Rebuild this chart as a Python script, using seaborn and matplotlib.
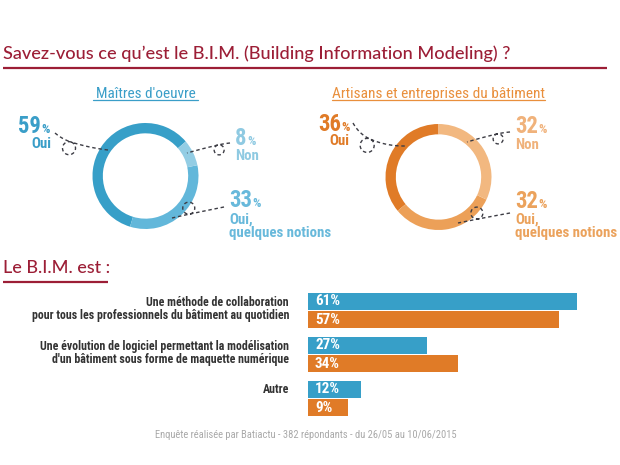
import numpy as np
import pandas as pd
import matplotlib
matplotlib.use("Agg")
import matplotlib.pyplot as plt
import seaborn as sns
from matplotlib import font_manager

# ---------------- data ----------------
title = "Savez-vous ce qu’est le B.I.M. (Building Information Modeling) ?"
section_title = "Le B.I.M. est :"
footer = "Enquête réalisée par Batiactu - 382 répondants - du 26/05 au 10/06/2015"

groups = ["Maîtres d'oeuvre", "Artisans et entreprises du bâtiment"]
answers = ["Oui", "Oui,\nquelques notions", "Non"]
moe_values = [59, 33, 8]
art_values = [36, 32, 32]

bim_categories = [
    "Une méthode de collaboration\npour tous les professionnels du bâtiment au quotidien",
    "Une évolution de logiciel permettant la modélisation\nd'un bâtiment sous forme de maquette numérique",
    "Autre",
]
bim_moe = [61, 27, 12]
bim_art = [57, 34, 9]

# ---------------- style ----------------
W, H = 620, 465
RED = "#9c1e36"
BLUE = ["#379fc8", "#62b7da", "#93cde4"]      # Oui, notions, Non
ORANGE = ["#e07b27", "#eca058", "#f2b880"]
BLUE_TXT = ["#3a9ec8", "#68b9db", "#8fcae2"]
ORANGE_TXT = ["#e07b27", "#eba25c", "#f0b27b"]
BAR_COLORS = ["#379fc8", "#e07b27"]

sns.set_theme(style="white")
names = set(font_manager.get_font_names())
NARROW = next(f for f in ["Roboto Condensed", "Archivo Narrow", "Asap Condensed",
                          "Liberation Sans Narrow", "Roboto"] if f in names or f == "Roboto")
plt.rcParams["font.family"] = [NARROW, "DejaVu Sans"]
TITLE_FONT = "Lato" if "Lato" in names else "DejaVu Sans"

fig = plt.figure(figsize=(W / 100, H / 100), dpi=100)
fig.patch.set_facecolor("white")
renderer = fig.canvas.get_renderer()

ov = fig.add_axes([0, 0, 1, 1], zorder=5)
ov.set_xlim(0, W)
ov.set_ylim(H, 0)
ov.axis("off")
ov.patch.set_visible(False)


def fit(t, width_px):
    bb = t.get_window_extent(renderer)
    t.set_fontsize(t.get_fontsize() * width_px / bb.width)
    return t.get_fontsize()


def px_extent(t):
    bb = t.get_window_extent(renderer)
    return bb.x0, bb.x1


# ---------------- titles ----------------
t = ov.text(3, 59, title, family=TITLE_FONT, color=RED, fontsize=13, va="baseline", ha="left",
            fontweight="medium")
fit(t, 507)
ov.plot([3, 607], [68, 68], color=RED, lw=1.6, solid_capstyle="butt")

t = ov.text(3, 273, section_title, family=TITLE_FONT, color=RED, fontsize=13, va="baseline", ha="left",
            fontweight="medium")
fit(t, 107)
ov.plot([3, 108], [282, 282], color=RED, lw=1.6, solid_capstyle="butt")

# ---------------- donuts ----------------
def donut(cx, cy, r, values, colors, start):
    ax = fig.add_axes([(cx - r) / W, (H - cy - r) / H, 2 * r / W, 2 * r / H])
    ax.pie(values, colors=colors, startangle=start, counterclock=True, radius=1,
           wedgeprops=dict(width=0.195, edgecolor="none", linewidth=0))
    ax.set_xlim(-1, 1)
    ax.set_ylim(-1, 1)
    ax.set_aspect("equal")
    ax.axis("off")
    return ax

donut(145.5, 176, 53, moe_values, BLUE, 40.6)
donut(438.5, 177, 53, art_values, ORANGE, 90)

# subtitles with underline
sub_specs = [(145.5, 93, 198, BLUE_TXT[0], 100), (438.5, 332, 545, "#e98f3c", 213)]
for g, (cx, x0, x1, col, wpx) in zip(groups, sub_specs):
    t = ov.text(cx, 98, g, color=col, fontsize=11, ha="center", va="baseline")
    fit(t, wpx)
    ov.plot([x0, x1], [100.5, 100.5], color=col, lw=0.9)

# donut labels
PCT_FS = 9.5
tmp = ov.text(0, 0, "59", fontweight="bold", fontsize=15)
NUM_FS = fit(tmp, 23)
tmp.remove()
small = ov.text(0, 0, "quelques notions", fontweight="bold", fontsize=10)
SMALL_FS = fit(small, 102)
small.remove()


def number_label(x, y, value, color, align):
    if align == "left":
        tn = ov.text(x, y, f"{value}", color=color, fontsize=NUM_FS, fontweight="bold",
                     ha="left", va="baseline")
        _, x1 = px_extent(tn)
        ov.text(x1 + 0.5, y, "%", color=color, fontsize=PCT_FS, fontweight="bold",
                ha="left", va="baseline")
    else:
        tp = ov.text(x, y, "%", color=color, fontsize=PCT_FS, fontweight="bold",
                     ha="right", va="baseline")
        x0, _ = px_extent(tp)
        ov.text(x0 - 0.5, y, f"{value}", color=color, fontsize=NUM_FS, fontweight="bold",
                ha="right", va="baseline")


def word_label(x, ys, text, color, align):
    for line, y in zip(text.split("\n"), ys):
        ov.text(x, y, line, color=color, fontsize=SMALL_FS, fontweight="bold",
                ha=align, va="baseline")


# left donut
number_label(50, 133, moe_values[0], BLUE_TXT[0], "right")
word_label(51, [148], answers[0], BLUE_TXT[0], "right")
number_label(235, 145, moe_values[2], BLUE_TXT[2], "left")
word_label(235, [160], answers[2], BLUE_TXT[2], "left")
number_label(229, 207, moe_values[1], BLUE_TXT[1], "left")
word_label(229, [224, 237], answers[1], BLUE_TXT[1], "left")
# right donut
number_label(350, 131, art_values[0], ORANGE_TXT[0], "right")
word_label(349, [145], answers[0], ORANGE_TXT[0], "right")
number_label(515, 133, art_values[2], ORANGE_TXT[2], "left")
word_label(515, [149], answers[2], ORANGE_TXT[2], "left")
number_label(515, 208, art_values[1], ORANGE_TXT[1], "left")
word_label(515, [224, 237], answers[1], ORANGE_TXT[1], "left")


# dashed loop connectors
def connector(p0, L, p1, rho, below):
    p0, L, p1 = np.array(p0, float), np.array(L, float), np.array(p1, float)
    d = p1 - p0
    d /= np.linalg.norm(d)
    n = np.array([-d[1], d[0]])
    if (n[1] > 0) != below:
        n = -n
    C = L + rho * n
    th0 = np.arctan2(-n[1], -n[0])
    tang = np.array([-np.sin(th0), np.cos(th0)])
    s = 1 if tang @ d > 0 else -1
    th = th0 + s * np.linspace(0, 2 * np.pi, 60)
    circ = C[None, :] + rho * np.c_[np.cos(th), np.sin(th)]
    u = np.linspace(0, 1, 30)[:, None]
    cA = L - d * np.linalg.norm(L - p0) * 0.5
    A = (1 - u) ** 2 * p0 + 2 * (1 - u) * u * cA + u ** 2 * L
    cB = L + d * np.linalg.norm(p1 - L) * 0.5
    B = (1 - u) ** 2 * L + 2 * (1 - u) * u * cB + u ** 2 * p1
    pts = np.vstack([A, circ, B])
    ov.plot(pts[:, 0], pts[:, 1], color="#3d3d45", lw=1.0, ls=(0, (2.5, 2)))

connector((55, 133), (71, 142), (108, 150), 6.5, True)
connector((230, 143), (218, 145), (187, 153), 5, True)
connector((224, 207), (190, 214), (172, 218), 6, False)
connector((353, 123), (370, 139), (405, 146), 7, True)
connector((510, 132), (497, 134), (467, 142), 5, True)
connector((510, 213), (478, 219), (458, 223), 6, False)

# ---------------- bars ----------------
df = pd.DataFrame({
    "category": bim_categories * 2,
    "group": [groups[0]] * 3 + [groups[1]] * 3,
    "value": bim_moe + bim_art,
})
px_per_unit = 4.41
x_max = 70
top_px, bot_px = 288.5, 420.5
axb = fig.add_axes([308 / W, (H - bot_px) / H, x_max * px_per_unit / W, (bot_px - top_px) / H])
sns.barplot(data=df, x="value", y="category", hue="group", palette=BAR_COLORS, orient="h",
            width=0.82, gap=0.05, saturation=1, legend=False, ax=axb, linewidth=0)
axb.set_xlim(0, x_max)
axb.set_ylim(2.5, -0.5)
axb.axis("off")

tmp = axb.text(0, 0, "61%", fontweight="bold", fontsize=9)
VAL_FS = fit(tmp, 25)
tmp.remove()
for p in axb.patches:
    w = p.get_width()
    if w > 0:
        axb.text(1.6, p.get_y() + p.get_height() / 2, f"{w:.0f}%", color="white",
                 fontsize=VAL_FS, fontweight="bold", ha="left", va="center")

cat_texts = []
for i, cat in enumerate(bim_categories):
    off = -0.045 if "\n" in cat else -0.215
    ct = axb.text(-19 / px_per_unit, i + off, cat, ha="right", va="center",
                  color="#333333", fontsize=8, fontweight="bold", linespacing=1.0)
    cat_texts.append(ct)
CAT_FS = fit(cat_texts[0], 256)
for ct in cat_texts:
    ct.set_fontsize(CAT_FS)

# footer
t = ov.text(305.5, 435, footer, color="#a9a9a9", fontsize=7, ha="center", va="center")
fit(t, 303)

fig.savefig("out.png", dpi=100, facecolor="white")
